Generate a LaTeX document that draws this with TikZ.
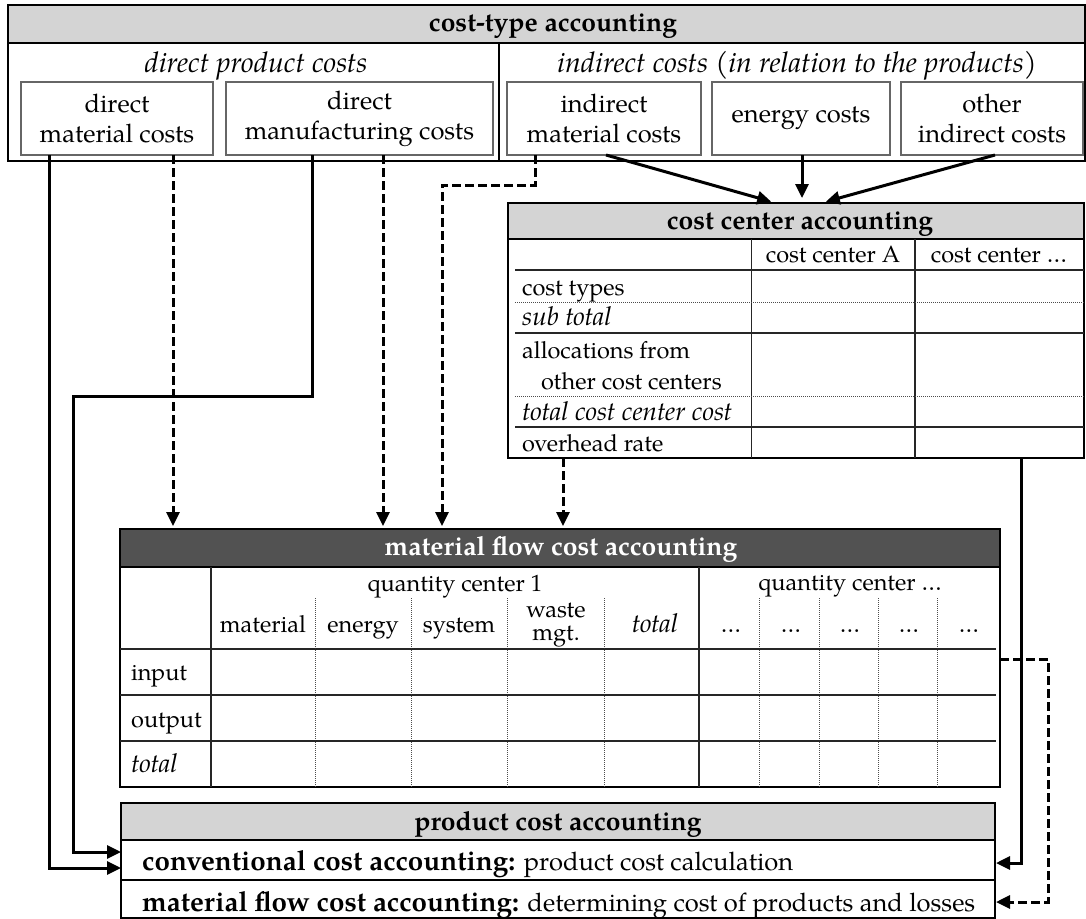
\documentclass[tikz,border=0pt]{standalone}
\usepackage{fontspec}
\setmainfont{TeX Gyre Pagella}
\usetikzlibrary{arrows.meta,calc}
\newcommand\bxfont{\fontsize{25.5}{30}\selectfont}
\newcommand\hdfont{\fontsize{28.5}{30}\selectfont\itshape}
\newcommand\tbfont{\fontsize{23.5}{28}\selectfont}
\newcommand\tifont{\fontsize{26}{28}\selectfont\itshape}
\newcommand\ttlfont{\fontsize{26.5}{30}\selectfont\bfseries}
\newcommand\rowbold{\fontsize{27.8}{30}\selectfont\bfseries}
\begin{document}
\begin{tikzpicture}[x=1pt,y=-1pt,
  frame/.style={draw=black,line width=2.2pt,inner sep=0pt,outer sep=0pt},
  cbox/.style={draw=black!60,line width=1.8pt,inner sep=0pt,outer sep=0pt,align=center,font=\bxfont},
  band/.style={fill=black!17},
  darkband/.style={fill=black!68},
  rule/.style={line width=1.3pt,draw=black!85},
  dots/.style={line width=1pt,draw=black!70,dash pattern=on 1pt off 1pt},
  flow/.style={line width=3pt,-{Triangle[length=14pt,width=13pt]}},
  dflow/.style={flow,dash pattern=on 9pt off 4pt},
  lbl/.style={inner sep=0pt,anchor=base,font=\tbfont},
  lbll/.style={lbl,anchor=base west},
  ttl/.style={inner sep=0pt,anchor=base,font=\ttlfont},
]
\useasboundingbox (0,0) rectangle (1086,918);

% ---------- cost-type accounting ----------
\fill[band] (8,5) rectangle (1085,43);
\node[frame,minimum width=1077pt,minimum height=156pt] (ct) at (546.5,83) {};
\draw[line width=2.2pt] (8,43) -- (1085,43);
\draw[line width=2.2pt] (499,43) -- (499,161);
\node[ttl] (cttitle) at (553,31) {cost-type accounting};
\node[lbl,font=\hdfont] (dpc) at (256,72) {direct product costs};
\node[lbl,font=\hdfont] (idc) at (797,72) {indirect costs (in relation to the products)};

\node[cbox,minimum width=192pt,minimum height=73pt] (dmc) at (117,118.5) {direct\\material costs};
\node[cbox,minimum width=267pt,minimum height=73pt] (dman) at (359.5,118.5) {direct\\manufacturing costs};
\node[cbox,minimum width=194pt,minimum height=73pt] (imc) at (604,118.5) {indirect\\material costs};
\node[cbox,minimum width=178pt,minimum height=73pt] (enc) at (801,118.5) {energy costs};
\node[cbox,minimum width=182pt,minimum height=73pt] (oic) at (992,118.5) {other\\indirect costs};

% ---------- cost center accounting ----------
\fill[band] (508,203) rectangle (1084,239);
\node[frame,minimum width=576pt,minimum height=255pt] (cc) at (796,330.5) {};
\draw[line width=2.2pt] (508,239) -- (1084,239);
\node[ttl] (cctitle) at (800,229) {cost center accounting};
\draw[rule] (751.5,239) -- (751.5,458);
\draw[rule] (915,239) -- (915,458);
\draw[rule] (515,270) -- (1084,270);
\draw[dots] (515,302) -- (1084,302);
\draw[rule] (515,333) -- (1084,333);
\draw[dots] (515,396) -- (1084,396);
\draw[rule] (515,427) -- (1084,427);
\node[lbl] (cca) at (833,262) {cost center A};
\node[lbl] (ccn) at (999,262) {cost center \dots};
\node[lbll] (r1) at (522,295) {cost types};
\node[lbll,font=\tifont] (r2) at (522,325) {sub total};
\node[lbll] (r3) at (522,358) {allocations from};
\node[lbll] (r4) at (541,389) {other cost centers};
\node[lbll,font=\tifont] (r5) at (522,420) {total cost center cost};
\node[lbll] (r6) at (522,451) {overhead rate};

% ---------- material flow cost accounting ----------
\fill[darkband] (120,529) rectangle (1000,567);
\node[frame,minimum width=880pt,minimum height=258pt] (mf) at (560,658) {};
\draw[line width=2.2pt] (120,567) -- (1000,567);
\node[ttl,text=white] (mftitle) at (561,555) {material flow cost accounting};
\draw[rule] (211,567) -- (211,787);
\draw[rule] (699,567) -- (699,787);
\foreach \cx in {315,411,507.5,604,759,819,878,937}
  \draw[dots] (\cx,598) -- (\cx,787);
\foreach \cy in {649,695,741}
  \draw[rule] (120,\cy) -- (996,\cy);
\node[lbl] (qc1) at (455,591) {quantity center 1};
\node[lbl] (qcn) at (850,590) {quantity center \dots};
\node[lbl] (hmat) at (263,632) {material};
\node[lbl] (hen) at (363,632) {energy};
\node[lbl] (hsys) at (459,632) {system};
\node[lbl] (hw1) at (556,617) {waste};
\node[lbl] (hw2) at (556,640) {mgt.};
\node[lbl,font=\tifont] (htot) at (655,632) {total};
\foreach \cx/\nm in {731/e1,791/e2,850/e3,909/e4,969/e5}
  \node[lbl] (\nm) at (\cx,632) {\dots};
\node[lbll] (rin) at (131,680) {input};
\node[lbll] (rout) at (131,727) {output};
\node[lbll,font=\tifont] (rtot) at (131,772) {total};

% ---------- product cost accounting ----------
\fill[band] (121,803) rectangle (995,840);
\node[frame,minimum width=874pt,minimum height=115pt] (pc) at (558,860.5) {};
\draw[line width=2.2pt] (121,840) -- (995,840);
\draw[line width=1.8pt] (121,880) -- (995,880);
\node[ttl] (pctitle) at (558,830) {product cost accounting};
\node[lbl,anchor=base west,font=\bxfont] (pcr1) at (142,870) {{\rowbold conventional cost accounting:} product cost calculation};
\node[lbl,anchor=base west,font=\bxfont] (pcr2) at (142,911) {{\rowbold material flow cost accounting:} determining cost of products and losses};

% ---------- connectors ----------
% indirect costs into cost center accounting
\coordinate (t1) at (776,0);
\coordinate (t2) at (802,0);
\coordinate (t3) at (821,0);
\coordinate (s1) at (606,0);
\coordinate (s3) at (995,0);
\draw[flow,shorten >=5pt] (imc.south -| s1) -- (cc.north -| t1);
\draw[flow,shorten >=5pt] (enc.south -| t2) -- (cc.north -| t2);
\draw[flow,shorten >=5pt] (oic.south -| s3) -- (cc.north -| t3);

% dashed flows into material flow cost accounting
\coordinate (d1) at (173,0);
\coordinate (d2) at (383,0);
\coordinate (d4) at (563,0);
\coordinate (d3a) at (535,185);
\coordinate (d3b) at (442,185);
\draw[dflow,shorten >=3pt] (dmc.south -| d1) -- (mf.north -| d1);
\draw[dflow,shorten >=3pt] (dman.south -| d2) -- (mf.north -| d2);
\draw[dflow,shorten >=3pt] (imc.south -| d3a) -- (d3a) -- (d3b) -- (mf.north -| d3b);
\draw[dflow,shorten >=3pt] (cc.south -| d4) -- (mf.north -| d4);

% direct costs into product cost accounting
\coordinate (c1) at (49,868);
\coordinate (c2a) at (312,396);
\coordinate (c2b) at (73,396);
\coordinate (c2c) at (73,852);
\draw[flow] (dmc.south -| c1) -- (c1) -- (pc.west |- c1);
\draw[flow] (dman.south -| c2a) -- (c2a) -- (c2b) -- (c2c) -- (pc.west |- c2c);

% overhead rates and material flow costs into product cost accounting
\coordinate (e1) at (1021,863);
\draw[flow,shorten >=1pt] (cc.south -| e1) -- (e1) -- (pc.east |- e1);
\coordinate (f1) at (1048,659);
\coordinate (f2) at (1048,902);
\draw[dflow,shorten >=1pt] (mf.east |- f1) -- (f1) -- (f2) -- (pc.east |- f2);
\end{tikzpicture}
\end{document}
